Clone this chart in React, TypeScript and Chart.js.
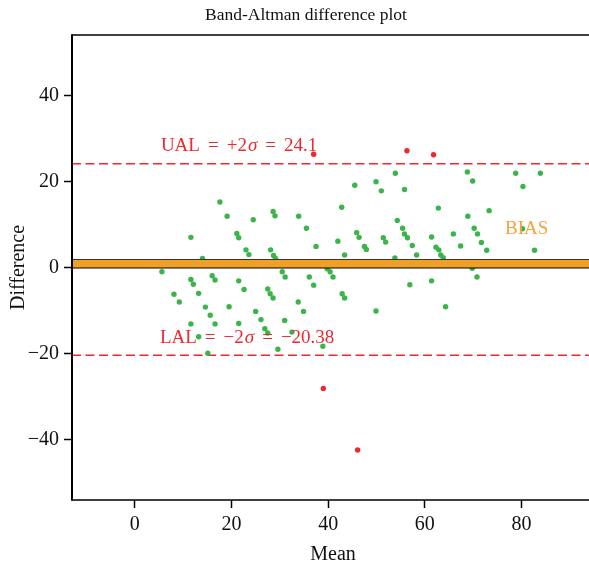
import React, { useEffect, useRef } from 'react';
import { Chart, registerables } from 'chart.js';

Chart.register(...registerables);

// ---- data ----
const meanValues = [
  17.6, 19.1, 24.5, 28.6, 29.0, 33.9, 11.6, 21.1, 21.5, 23.0, 23.6, 28.1, 28.7, 29.1, 14.0,
  5.6, 11.6, 12.1, 16.0, 16.6, 21.5, 22.6, 27.5, 28.0, 28.6, 30.5, 31.1, 33.8, 8.1, 9.2,
  13.2, 14.6, 15.6, 16.6, 11.6, 13.2, 15.1, 19.5, 21.5, 25.0, 26.1, 26.9, 27.5, 29.6, 31.0,
  32.5, 53.9, 49.9, 51.0, 45.5, 55.8, 42.8, 62.8, 35.5, 37.5, 42.0, 43.4, 45.9, 46.4, 47.5,
  47.9, 51.4, 51.9, 54.3, 55.4, 55.8, 56.4, 57.4, 58.3, 53.8, 61.4, 62.3, 62.9, 63.3, 63.8,
  39.8, 40.4, 41.0, 36.1, 37.0, 42.9, 43.4, 34.9, 38.9, 49.9, 56.9, 61.4, 64.3, 68.8, 69.9,
  78.8, 83.9, 80.3, 73.3, 68.9, 65.9, 70.2, 70.9, 71.7, 67.4, 72.8, 80.2, 82.7, 69.8, 70.8,
];
const diffValues = [
  15.2, 11.9, 11.1, 13.0, 12.0, 11.9, 7.0, 7.9, 6.9, 4.1, 3.0, 4.1, 2.8, 2.1, 2.1,
  -1.0, -2.8, -3.9, -1.9, -2.9, -3.1, -5.1, -5.0, -6.1, -7.1, -1.0, -2.2, -8.0, -6.2, -8.0,
  -6.0, -9.2, -11.1, -13.1, -13.1, -16.1, -19.9, -9.1, -13.0, -10.2, -12.1, -14.2, -15.2, -19.0, -12.3,
  -15.0, 21.9, 19.9, 17.8, 19.1, 18.1, 14.0, 13.8, 9.1, 4.9, 6.1, 2.9, 8.1, 7.0, 4.9,
  4.2, 6.9, 5.9, 10.9, 9.1, 7.8, 6.9, 5.1, 2.9, 2.2, 7.1, 4.7, 4.1, 2.9, 2.3,
  -0.3, -1.0, -2.2, -2.2, -4.1, -6.1, -7.1, -10.2, -18.3, -10.1, -4.0, -3.1, -9.1, 22.2, 20.1,
  21.9, 21.9, 18.8, 13.2, 11.9, 7.8, 9.1, 7.8, 5.8, 5.0, 4.0, 9.0, 4.0, -0.2, -2.2,
];
const outlierMean = [37.0, 56.3, 61.8, 39.0, 46.1];
const outlierDiff = [26.3, 27.1, 26.2, -28.1, -42.4];

const UAL = 24.1;
const LAL = -20.38;
const BIAS = 1.86;

const xTicks = [0, 20, 40, 60, 80];
const yTicks = [-40, -20, 0, 20, 40];
const xMin = -13;
const xMax = 95;
const yMin = -54;
const yMax = 54;

const TITLE = 'Band-Altman difference plot';
const X_TITLE = 'Mean';
const Y_TITLE = 'Difference';

const SERIF = '"Liberation Serif", "DejaVu Serif", serif';
const RED = '#F0282D';
const GREEN = '#3BB44A';
const ORANGE = '#F0A024';
const BIAS_TEXT = '#F5A43A';

const annotPlugin = {
  id: 'annot',
  afterDraw(chart: any) {
    const { ctx, chartArea: ca, scales } = chart;
    const x = scales.x;
    const y = scales.y;
    ctx.save();
    // frame
    ctx.strokeStyle = '#000';
    ctx.lineWidth = 1.5;
    ctx.beginPath();
    ctx.moveTo(ca.left, ca.top);
    ctx.lineTo(ca.right + 10, ca.top);
    ctx.moveTo(ca.left, ca.bottom);
    ctx.lineTo(ca.right + 10, ca.bottom);
    ctx.stroke();
    ctx.lineWidth = 2;
    ctx.beginPath();
    ctx.moveTo(ca.left, ca.top - 0.75);
    ctx.lineTo(ca.left, ca.bottom + 0.75);
    ctx.stroke();

    // title & axis titles
    ctx.fillStyle = '#111';
    ctx.textAlign = 'center';
    ctx.textBaseline = 'alphabetic';
    ctx.font = `17.5px ${SERIF}`;
    ctx.fillText(TITLE, 306, 20);
    ctx.font = `20px ${SERIF}`;
    ctx.textBaseline = 'middle';
    ctx.fillText(X_TITLE, (ca.left + ca.right) / 2, 555);
    ctx.save();
    ctx.translate(19, (ca.top + ca.bottom) / 2);
    ctx.rotate(-Math.PI / 2);
    ctx.fillText(Y_TITLE, 0, 0);
    ctx.restore();

    // limit labels, laid out piece by piece
    ctx.textAlign = 'left';
    ctx.textBaseline = 'alphabetic';
    const drawPieces = (x0: number, yb: number, pieces: [string, number, boolean][], color: string) => {
      ctx.fillStyle = color;
      let cx = x0;
      for (const [t, gap, it] of pieces) {
        ctx.font = `${it ? 'italic ' : ''}19px ${SERIF}`;
        cx += gap;
        ctx.fillText(t, cx, yb);
        cx += ctx.measureText(t).width;
      }
    };
    drawPieces(x.getPixelForValue(5.6) - 1, y.getPixelForValue(UAL) - 13, [
      ['UAL', 0, false], ['=', 8, false], ['+2', 8, false], ['σ', 1, true], ['=', 8, false], [String(UAL), 8, false],
    ], RED);
    drawPieces(x.getPixelForValue(5.4) - 1, y.getPixelForValue(LAL) - 12, [
      ['LAL', 0, false], ['=', 8, false], ['−2', 8, false], ['σ', 1, true], ['=', 8, false], ['−' + String(Math.abs(LAL)), 8, false],
    ], RED);
    ctx.fillStyle = BIAS_TEXT;
    ctx.font = `19px ${SERIF}`;
    ctx.fillText('BIAS', x.getPixelForValue(76.8) - 1, y.getPixelForValue(BIAS) - 25);
    ctx.restore();
  },
};

export default function App() {
  const ref = useRef<HTMLCanvasElement | null>(null);
  useEffect(() => {
    if (!ref.current) return;
    const hline = (v: number) => [
      { x: xMin, y: v },
      { x: xMax, y: v },
    ];
    const chart = new Chart(ref.current, {
      type: 'scatter',
      data: {
        datasets: [
          {
            type: 'line',
            data: hline(BIAS),
            borderColor: '#333',
            borderWidth: 1,
            backgroundColor: ORANGE,
            fill: { value: 0 },
            pointRadius: 0,
            order: 0,
          } as any,
          {
            type: 'line',
            data: hline(0),
            borderColor: '#000',
            borderWidth: 2,
            pointRadius: 0,
            fill: false,
            order: 0,
          } as any,
          {
            type: 'line',
            data: hline(UAL),
            borderColor: RED,
            borderWidth: 1.3,
            borderDash: [9, 4.5],
            pointRadius: 0,
            fill: false,
            order: 2,
          } as any,
          {
            type: 'line',
            data: hline(LAL),
            borderColor: RED,
            borderWidth: 1.3,
            borderDash: [9, 4.5],
            pointRadius: 0,
            fill: false,
            order: 2,
          } as any,
          {
            data: meanValues.map((m, i) => ({ x: m, y: diffValues[i] })),
            backgroundColor: GREEN,
            borderColor: GREEN,
            borderWidth: 0,
            pointRadius: 2.7,
            order: 1,
          },
          {
            data: outlierMean.map((m, i) => ({ x: m, y: outlierDiff[i] })),
            backgroundColor: RED,
            borderColor: RED,
            borderWidth: 0,
            pointRadius: 2.7,
            order: 1,
          },
        ],
      },
      options: {
        animation: false,
        responsive: false,
        devicePixelRatio: 1,
        layout: { padding: { top: 35, right: 6, left: 0, bottom: 0 } },
        plugins: {
          legend: { display: false },
          tooltip: { enabled: false },
          title: { display: false },
        },
        scales: {
          x: {
            type: 'linear',
            min: xMin,
            max: xMax,
            afterBuildTicks: (s: any) => {
              s.ticks = xTicks.map((v) => ({ value: v }));
            },
            afterFit: (s: any) => {
              s.height = 69;
            },
            border: { display: false },
            grid: {
              drawOnChartArea: false,
              drawTicks: true,
              tickLength: 8,
              tickColor: '#000',
              tickWidth: 1.5,
            },
            ticks: {
              color: '#111',
              font: { family: SERIF, size: 20 },
              padding: 5,
              maxRotation: 0,
            },
          },
          y: {
            type: 'linear',
            min: yMin,
            max: yMax,
            afterBuildTicks: (s: any) => {
              s.ticks = yTicks.map((v) => ({ value: v }));
            },
            afterFit: (s: any) => {
              s.width = 72;
            },
            border: { display: false },
            grid: {
              drawOnChartArea: false,
              drawTicks: true,
              tickLength: 8,
              tickColor: '#000',
              tickWidth: 1.5,
            },
            ticks: {
              color: '#111',
              font: { family: SERIF, size: 20 },
              padding: 5,
              callback: (v: any) => (Number(v) < 0 ? '−' + Math.abs(Number(v)) : String(v)),
            },
          },
        },
      },
      plugins: [annotPlugin],
    } as any);
    return () => chart.destroy();
  }, []);
  return (
    <div style={{ position: 'absolute', left: 0, top: 0, width: 600, height: 569, background: '#fff' }}>
      <canvas ref={ref} width={600} height={569} style={{ width: 600, height: 569, display: 'block' }} />
    </div>
  );
}
